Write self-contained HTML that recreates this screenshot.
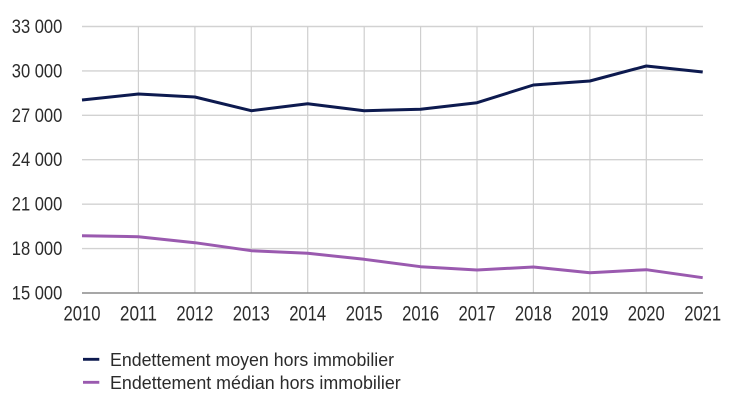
<!DOCTYPE html>
<html>
<head>
<meta charset="utf-8">
<style>
  html, body { margin: 0; padding: 0; background: #ffffff; }
  svg { display: block; }
  text { font-family: "Liberation Sans", "DejaVu Sans", sans-serif; fill: #2b2b2b; }
</style>
</head>
<body>
<svg width="730" height="410" viewBox="0 0 730 410" xmlns="http://www.w3.org/2000/svg">
  <rect x="0" y="0" width="730" height="410" fill="#ffffff"/>
  <!-- horizontal gridlines -->
  <g stroke="#d2d2d2" stroke-width="1.4">
    <line x1="82" y1="26.5" x2="703" y2="26.5"/>
    <line x1="82" y1="70.9" x2="703" y2="70.9"/>
    <line x1="82" y1="115.3" x2="703" y2="115.3"/>
    <line x1="82" y1="159.7" x2="703" y2="159.7"/>
    <line x1="82" y1="204.2" x2="703" y2="204.2"/>
    <line x1="82" y1="248.6" x2="703" y2="248.6"/>
  </g>
  <!-- vertical gridlines -->
  <g stroke="#cfcfcf" stroke-width="1.2">
    <line x1="138.4" y1="26.5" x2="138.4" y2="293"/>
    <line x1="194.9" y1="26.5" x2="194.9" y2="293"/>
    <line x1="251.3" y1="26.5" x2="251.3" y2="293"/>
    <line x1="307.7" y1="26.5" x2="307.7" y2="293"/>
    <line x1="364.2" y1="26.5" x2="364.2" y2="293"/>
    <line x1="420.6" y1="26.5" x2="420.6" y2="293"/>
    <line x1="477" y1="26.5" x2="477" y2="293"/>
    <line x1="533.4" y1="26.5" x2="533.4" y2="293"/>
    <line x1="589.9" y1="26.5" x2="589.9" y2="293"/>
    <line x1="646.3" y1="26.5" x2="646.3" y2="293"/>
  </g>
  <!-- x axis -->
  <line x1="82" y1="293" x2="703" y2="293" stroke="#8a8a8a" stroke-width="1.4"/>

  <!-- series -->
  <polyline fill="none" stroke="#0d1a4f" stroke-width="3" stroke-linejoin="round"
    points="82,100 138.4,94 194.9,97 251.3,110.7 307.7,103.7 364.2,110.7 420.6,109.3 477,102.7 533.4,85 589.9,81 646.3,66 702.7,72"/>
  <polyline fill="none" stroke="#9a5aaf" stroke-width="3" stroke-linejoin="round"
    points="82,235.7 138.4,236.7 194.9,242.7 251.3,250.7 307.7,253.3 364.2,259.3 420.6,266.7 477,270 533.4,267 589.9,272.7 646.3,269.7 702.7,277.7"/>

  <!-- y labels -->
  <g font-size="19.5" text-anchor="end">
    <text x="62.3" y="33" textLength="50.5" lengthAdjust="spacingAndGlyphs">33 000</text>
    <text x="62.3" y="77.4" textLength="50.5" lengthAdjust="spacingAndGlyphs">30 000</text>
    <text x="62.3" y="121.8" textLength="50.5" lengthAdjust="spacingAndGlyphs">27 000</text>
    <text x="62.3" y="166.2" textLength="50.5" lengthAdjust="spacingAndGlyphs">24 000</text>
    <text x="62.3" y="210.7" textLength="50.5" lengthAdjust="spacingAndGlyphs">21 000</text>
    <text x="62.3" y="255.1" textLength="50.5" lengthAdjust="spacingAndGlyphs">18 000</text>
    <text x="62.3" y="299.5" textLength="50.5" lengthAdjust="spacingAndGlyphs">15 000</text>
  </g>

  <!-- x labels -->
  <g font-size="21.5" text-anchor="middle">
    <text x="82" y="320.7" textLength="37" lengthAdjust="spacingAndGlyphs">2010</text>
    <text x="138.4" y="320.7" textLength="37" lengthAdjust="spacingAndGlyphs">2011</text>
    <text x="194.9" y="320.7" textLength="37" lengthAdjust="spacingAndGlyphs">2012</text>
    <text x="251.3" y="320.7" textLength="37" lengthAdjust="spacingAndGlyphs">2013</text>
    <text x="307.7" y="320.7" textLength="37" lengthAdjust="spacingAndGlyphs">2014</text>
    <text x="364.2" y="320.7" textLength="37" lengthAdjust="spacingAndGlyphs">2015</text>
    <text x="420.6" y="320.7" textLength="37" lengthAdjust="spacingAndGlyphs">2016</text>
    <text x="477" y="320.7" textLength="37" lengthAdjust="spacingAndGlyphs">2017</text>
    <text x="533.4" y="320.7" textLength="37" lengthAdjust="spacingAndGlyphs">2018</text>
    <text x="589.9" y="320.7" textLength="37" lengthAdjust="spacingAndGlyphs">2019</text>
    <text x="646.3" y="320.7" textLength="37" lengthAdjust="spacingAndGlyphs">2020</text>
    <text x="702.7" y="320.7" textLength="37" lengthAdjust="spacingAndGlyphs">2021</text>
  </g>

  <!-- legend -->
  <line x1="83" y1="359.3" x2="99.3" y2="359.3" stroke="#0d1a4f" stroke-width="2.8"/>
  <line x1="83" y1="382.3" x2="99.3" y2="382.3" stroke="#9a5aaf" stroke-width="2.8"/>
  <g font-size="18">
    <text x="110" y="366" textLength="284" lengthAdjust="spacingAndGlyphs">Endettement moyen hors immobilier</text>
    <text x="110" y="389" textLength="290.7" lengthAdjust="spacingAndGlyphs">Endettement médian hors immobilier</text>
  </g>
</svg>
</body>
</html>
